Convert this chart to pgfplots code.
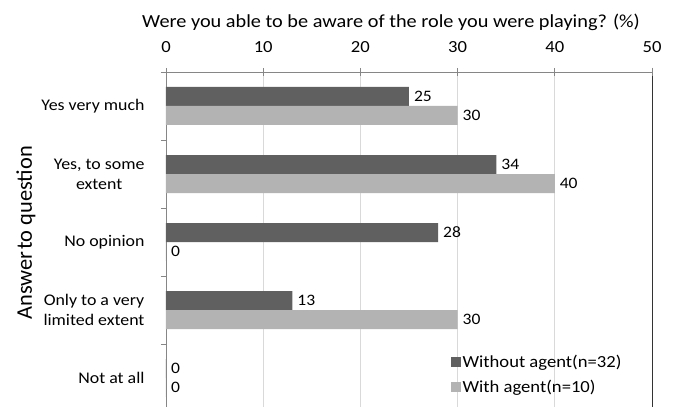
\documentclass[border=0pt]{standalone}
\usepackage{pgfplots}
\pgfplotsset{compat=1.18}
\usepackage{fontspec}
\setmainfont{Carlito}[FakeStretch=1.1]
\newfontfamily\labelfont{Carlito}
\definecolor{darkbar}{HTML}{606060}
\definecolor{lightbar}{HTML}{B3B3B3}
\definecolor{gridgray}{HTML}{D9D9D9}
\definecolor{axisgray}{HTML}{868686}
\definecolor{edgegray}{HTML}{333333}
\begin{document}
\begin{tikzpicture}
\useasboundingbox (-166bp,0bp) rectangle (509bp,407bp);
\begin{axis}[
  scale only axis, width=486bp, height=335bp,
  clip=false,
  /pgf/number format/assume math mode=true,
  xbar, bar width=19bp,
  xmin=0, xmax=50, ymin=-0.426, ymax=4.5,
  axis x line*=top, axis y line*=left,
  axis line style={color=axisgray, line width=0.6pt},
  xtick={0,10,...,50},
  xtick align=center,
  xtick style={draw=axisgray, line width=0.6pt},
  major tick length=8bp,
  minor tick length=5bp,
  xmajorgrids, grid style={gridgray, line width=0.6pt},
  extra x ticks={50}, extra x tick labels={},
  extra x tick style={grid style={edgegray, line width=0.9pt}},
  x tick label style={font=\fontsize{17}{19}\selectfont, yshift=12bp},
  ytick={0,1,2,3,4},
  yticklabels={Not at all, {Only to a very\\limited extent}, No opinion, {Yes, to some\\extent}, Yes very much},
  y tick label style={align=center, font=\fontsize{16.3}{20}\selectfont, xshift=-10bp},
  major y tick style={draw=none},
  minor ytick={0.5,1.5,2.5,3.5,4.5},
  minor y tick style={draw=axisgray, line width=0.6pt},
  ytick align=outside,
  nodes near coords,
  every node near coord/.append style={font=\fontsize{16}{18}\selectfont, text=black, xshift=1.5bp},
  legend style={at={(axis description cs:0.579,0.027)}, anchor=south west,
    draw=none, fill=none, font=\fontsize{17}{19}\selectfont,
    row sep=7bp, cells={anchor=west}},
  legend image code/.code={\fill[#1] (0bp,-5bp) rectangle (10bp,5bp);},
]
\addplot[fill=darkbar, draw=none, bar shift=9.5bp] coordinates {(25,4) (34,3) (28,2) (13,1) (0,0)};
\addlegendentry{Without agent(n=32)}
\addplot[fill=lightbar, draw=none, bar shift=-9.5bp] coordinates {(30,4) (40,3) (0,2) (30,1) (0,0)};
\addlegendentry{With agent(n=10)}
\node[font=\fontsize{18.5}{21}\selectfont] at (axis description cs:0.463,1.148)
  {Were you able to be aware of the role you were playing? (\%)};
\node[rotate=90, font=\labelfont\fontsize{22.5}{24}\selectfont] at (axis description cs:-0.288,0.52)
  {Answer\hspace{2bp}to question};
\end{axis}
\end{tikzpicture}
\end{document}
